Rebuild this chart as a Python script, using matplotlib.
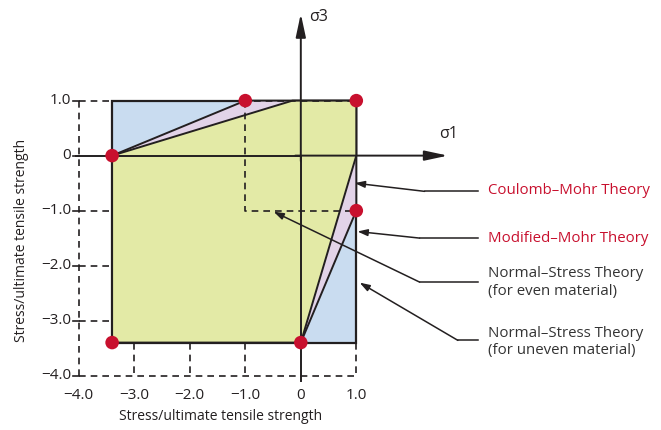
import matplotlib.pyplot as plt
from matplotlib.patches import Polygon

plt.rcParams['font.family'] = ['Open Sans', 'DejaVu Sans']

# failure envelope corners (stress / ultimate tensile strength)
sc = -3.4   # compressive limit
st = 1.0    # tensile limit
box = [(sc, st), (st, st), (st, sc), (sc, sc)]
modified_mohr = [(sc, 0.0), (-1.0, st), (st, st), (st, -1.0), (0.0, sc), (sc, sc)]
coulomb_mohr = [(sc, 0.0), (-0.15, st), (st, st), (st, 0.0), (0.0, sc), (sc, sc)]
even_square_x = [-1.0, -1.0, 1.0]
even_square_y = [1.0, -1.0, -1.0]
dots_x = [sc, -1.0, 1.0, 1.0, sc, 0.0]
dots_y = [0.0, 1.0, 1.0, -1.0, sc, sc]

tick_vals = [-4.0, -3.0, -2.0, -1.0, 0.0, 1.0]
tick_labels = ['\u22124.0', '\u22123.0', '\u22122.0', '\u22121.0', '0', '1.0']

labels = ['Coulomb\u2013Mohr Theory', 'Modified\u2013Mohr Theory',
          'Normal\u2013Stress Theory\n(for even material)',
          'Normal\u2013Stress Theory\n(for uneven material)']
label_colors = ['#c8102e', '#c8102e', '#333333', '#333333']
label_y = [-0.64, -1.5, -2.31, -3.39]
elbow = [(2.23, -0.65), (2.14, -1.5), (2.14, -2.3), (2.83, -3.36)]
tips = [(0.97, -0.5), (1.02, -1.38), (-0.49, -1.02), (1.06, -2.31)]

dark = '#231f20'
red = '#c8102e'

fig = plt.figure(figsize=(6.61, 4.30), dpi=100)
ax = fig.add_axes([0, 0, 1, 1])
ax.set_xlim(-5.42, 6.49)
ax.set_ylim(-4.99, 2.83)
ax.axis('off')

# shaded regions
ax.add_patch(Polygon(box, closed=True, facecolor='#c9dcf0', edgecolor=dark, lw=1.6, zorder=1))
ax.add_patch(Polygon(modified_mohr, closed=True, facecolor='#e2d3e8', edgecolor=dark, lw=1.4, zorder=2))
ax.add_patch(Polygon(coulomb_mohr, closed=True, facecolor='#e3eaa6', edgecolor=dark, lw=1.4, zorder=3))

# dashed guide lines
dash = dict(color=dark, lw=1.2, ls=(0, (4, 3)), zorder=4)
ax.plot([-4, -4], [-4, 1], **dash)
ax.plot([-4, 1], [1, 1], **dash)
ax.plot([-4, 1], [-4, -4], **dash)
ax.plot([1, 1], [sc, -4], **dash)
for v in [-3.0, -2.0, -1.0]:
    ax.plot([v, v], [sc, -4], **dash)
    ax.plot([-4, sc], [v, v], **dash)
ax.plot(even_square_x, even_square_y, **dash)

# axes with arrows
ax.plot([-4.05, 0], [0, 0], color=dark, lw=1.4, zorder=5)
ax.annotate('', xy=(2.65, 0), xytext=(-0.1, 0),
            arrowprops=dict(arrowstyle='-|>,head_length=1.4,head_width=0.3', color=dark, lw=1.4,
                            shrinkA=0, shrinkB=0), zorder=5)
ax.plot([0, 0], [-4.1, 0], color=dark, lw=1.4, zorder=5)
ax.annotate('', xy=(0, 2.58), xytext=(0, -0.1),
            arrowprops=dict(arrowstyle='-|>,head_length=1.4,head_width=0.3', color=dark, lw=1.4,
                            shrinkA=0, shrinkB=0), zorder=5)
ax.text(2.5, 0.4, '\u03c31', fontsize=11.5, color=dark, ha='left', va='center')
ax.text(0.15, 2.52, '\u03c33', fontsize=11.5, color=dark, ha='left', va='center')

# tick marks and labels
for v, lab in zip(tick_vals, tick_labels):
    ax.plot([-4.1, -4.0], [v, v], color=dark, lw=1.2, zorder=4)
    ax.text(-4.14, v, lab, fontsize=11, color=dark, ha='right', va='center')
    ax.text(v, -4.22, lab, fontsize=11, color=dark, ha='center', va='top')

ax.text(-1.45, -4.74, 'Stress/ultimate tensile strength', fontsize=10, color=dark,
        ha='center', va='center')
ax.text(-5.03, -1.55, 'Stress/ultimate tensile strength', fontsize=10, color=dark,
        ha='center', va='center', rotation=90)

# red points
ax.scatter(dots_x, dots_y, s=95, color=red, zorder=6, edgecolors='none')

# leader lines with labels
for lab, col, ly, (ex, ey), (tx, ty) in zip(labels, label_colors, label_y, elbow, tips):
    ax.plot([3.2, ex], [ey, ey], color=dark, lw=1.1, zorder=5)
    ax.annotate('', xy=(tx, ty), xytext=(ex, ey),
                arrowprops=dict(arrowstyle='-|>,head_length=0.6,head_width=0.2', color=dark, lw=1.1,
                                shrinkA=0, shrinkB=0), zorder=5)
    ax.text(3.37, ly, lab, fontsize=10.8, color=col, ha='left', va='center', linespacing=1.25)

fig.savefig('out.png', dpi=100)
